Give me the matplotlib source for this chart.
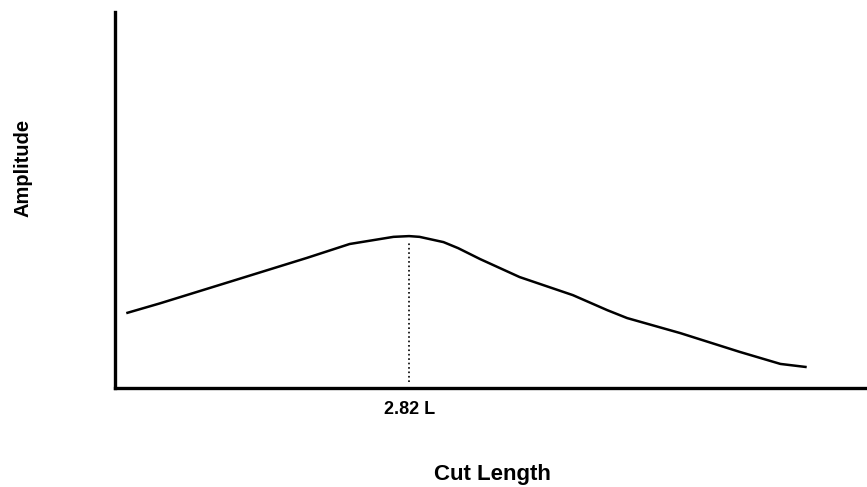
import matplotlib.pyplot as plt

# curve (arbitrary units, peak at 2.82 L)
cut_length = [0.12, 0.43, 1.13, 1.84, 2.25, 2.67, 2.82, 2.92, 3.15, 3.29,
              3.50, 3.88, 4.39, 4.72, 4.91, 5.42, 5.99, 6.38, 6.62]
amplitude = [0.200, 0.225, 0.285, 0.346, 0.383, 0.402, 0.404, 0.402, 0.388, 0.372,
             0.343, 0.295, 0.247, 0.207, 0.186, 0.146, 0.096, 0.064, 0.056]
peak_x = 2.82
peak_label = '2.82 L'

plt.rcParams['font.family'] = ['Liberation Sans', 'DejaVu Sans']

fig = plt.figure(figsize=(8.67, 4.87), dpi=100)
ax = fig.add_axes([0.1326, 0.2033, 0.8674, 0.772])

ax.plot(cut_length, amplitude, color='black', linewidth=1.8)
peak_y = amplitude[cut_length.index(peak_x)]
ax.vlines(peak_x, 0.015, peak_y - 0.015, colors='black', linestyles=':', linewidth=1.2)

ax.set_xlim(0, 7.21)
ax.set_ylim(0, 1)
ax.set_xticks([])
ax.set_yticks([])
for side in ['top', 'right']:
    ax.spines[side].set_visible(False)
for side in ['left', 'bottom']:
    ax.spines[side].set_linewidth(2.4)

ax.text(peak_x, -0.056, peak_label, ha='center', va='center', fontsize=13, fontweight='bold')
fig.text(0.568, 0.026, 'Cut Length', ha='center', va='center', fontsize=16, fontweight='bold')
fig.text(0.027, 0.656, 'Amplitude', ha='center', va='center', rotation=90, fontsize=14.5, fontweight='bold')

plt.savefig('out.png', dpi=100)
